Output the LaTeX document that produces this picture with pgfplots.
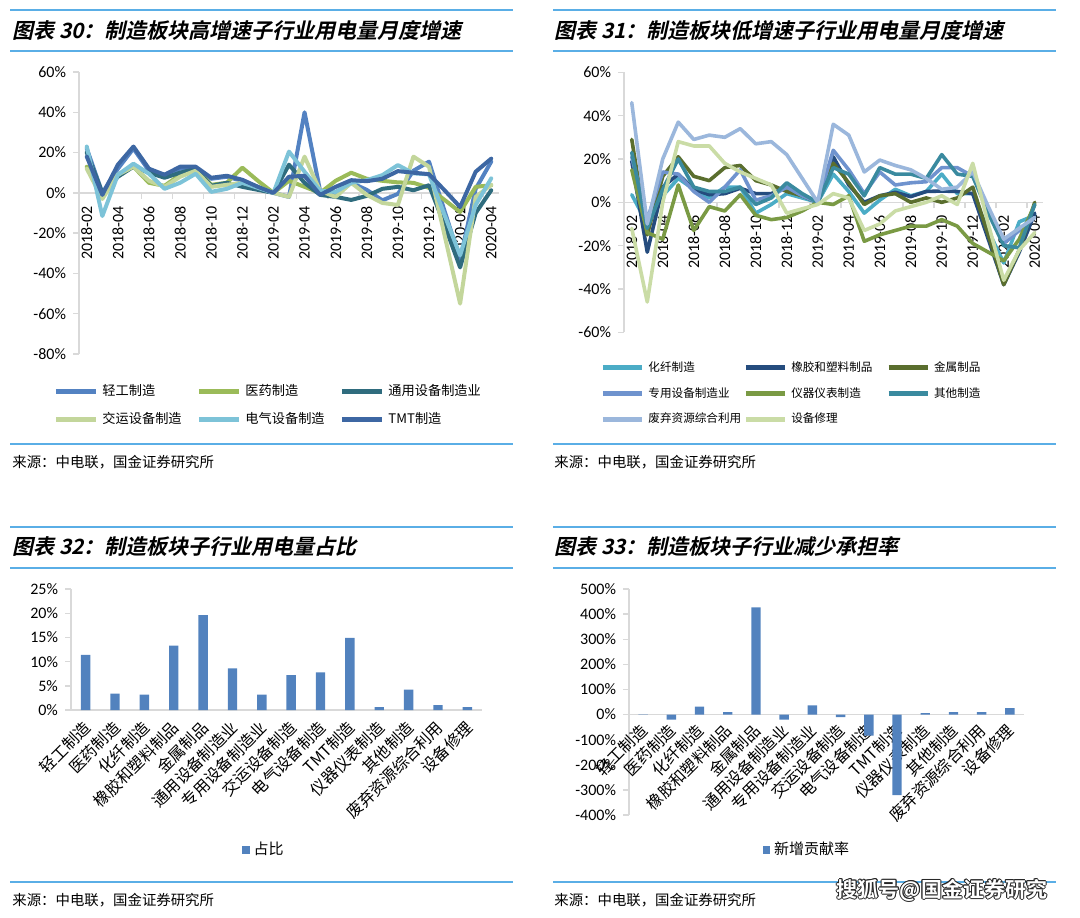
\documentclass[border=0pt]{standalone}
\usepackage{pgfplots}
\pgfplotsset{compat=1.18}
\usepackage{pgfplotstable}
\usepackage{fontspec}
\setmainfont{Carlito}
\newfontfamily\cjk{Noto Sans CJK SC}
\newfontfamily\cjkB{Noto Sans CJK SC Bold}
\newfontfamily\cjkT[FakeSlant=0.22]{Noto Sans CJK SC Bold}

\definecolor{sepblue}{HTML}{5AAEE6}
\definecolor{axgray}{HTML}{D9D9D9}
\definecolor{qg}{HTML}{5382C2}
\definecolor{yy}{HTML}{9BBB59}
\definecolor{ty}{HTML}{2F6C7E}
\definecolor{jy}{HTML}{C3D69B}
\definecolor{dq}{HTML}{7DC3D8}
\definecolor{tmt}{HTML}{3D67A3}
\definecolor{hx}{HTML}{4BACC6}
\definecolor{xj}{HTML}{254C7E}
\definecolor{js}{HTML}{5A6E2E}
\definecolor{zy}{HTML}{6F93CE}
\definecolor{yq}{HTML}{7A9A44}
\definecolor{qt}{HTML}{3A8A9F}
\definecolor{fq}{HTML}{9BB7DC}
\definecolor{xl}{HTML}{CADCA6}
\definecolor{bar}{HTML}{5282BE}

% panel 1: i, qg(轻工) yy(医药) ty(通用) jy(交运) dq(电气) tmt(TMT)
\pgfplotstableread{
i qg yy ty jy dq tmt
0 22 13 20 12 23 18
1 0 -2 0 -3 -11.5 -1
2 12 9 8 9 9 14
3 22 13 13 13 14.5 23
4 11 5 10 6 9.5 12
5 9 3.5 7.5 3 2 9
6 12 9 10 8 5 13
7 12 12 12 11 9.5 13
8 7 4 3.5 3 0.5 7.5
9 8 5 5 4 2 8.5
10 6 12.5 3 5 5 6.5
11 3 6 1.5 3 2.5 3
12 0 0 0 0 0 0
13 -2 6 14 -2 20.5 8
14 40 3 5 18 10.5 8.5
15 1 0 -1 1 1 -1
16 -1 6 -2 -2 0.5 3
17 5 10 -3.5 5 5 6.3
18 1.5 7 -1.5 -1 6.3 5.8
19 -3.7 6 2 -5 8.8 7
20 -0.5 5.2 3 -6 13.8 10.8
21 11 5 1.3 18 9.7 10
22 15.5 2.5 3.8 13 9.2 9.3
23 -9 -3.5 -16 -21 -11 1.3
24 -33 -9.5 -37 -55 -31 -7
25 2 3 -10 -2 -6 10.5
26 15.5 3.8 1.3 4 7.2 17
}\tabA

% panel 2: hx(化纤) xj(橡胶) js(金属) zy(专用) yq(仪器) qt(其他) fq(废弃) xl(修理)
\pgfplotstableread{
i hx xj js zy yq qt fq xl
0 3.5 19 29 21 15 23 46 -12
1 -10 -23 -15 -8 -14 -12 -10 -46
2 3 7 12 14 -17 6 20 0
3 11 13 21 13 8 20 37 28
4 6 6 12 5 -13 7 29 26
5 2 3.5 10 0 -2 5 31 26
6 7 4 16 7 -4 5 30 18
7 7 6.5 17 15 3.5 7 34 14
8 -5 4 10 1 -6 -1 27 11
9 -1 4 8 3 -8 2 28 8
10 4 7 5 7 -7 9 22 -5
11 2 3 3 3 -4 4 11 -3
12 0 0 0 0 0 0 0 -1
13 13 21 18 24 -1 16 36 4
14 5 8 9 15 3 13 31 2
15 -5 0 -1 4 -18 3 14 -13
16 1 3 3 14 -15 16 19.5 -10
17 6 4.6 4 8 -13 13 17 -4
18 3 2.6 0 9 -11 13 15 -2
19 5 5 2 9.5 -11 11 11 0
20 13 5.2 0 16 -8 22 6 3
21 4 5 2 16 -11 13 7 -1
22 4 4 7 12 -19 12 14 18
23 -13 -17 -15 -3 -23 -5 -2 -10
24 -28 -38 -38 -19 -27 -20 -17 -36
25 -9 -23 -22 -13 -17 -21 -12 -22
26 -6 -5 0 -7 -1 -1 -7 -14
}\tabB

\pgfplotsset{
  base/.style={scale only axis, axis x line*=middle, axis y line*=left,
    axis line style={draw=axgray, line width=0.7pt},
    tick align=outside, major tick length=3pt, minor tick length=3pt,
    tick style={draw=axgray, line width=0.7pt},
    major x tick style={draw=none},
    ticklabel style={font=\fontsize{8}{9.6}\selectfont, text=black},
    /pgf/number format/assume math mode=true,
    yticklabel={\pgfmathprintnumber{\tick}\%},
  },
  ln/.style={line width=2pt, line join=round, line cap=round, mark=none},
}

\begin{document}
\begin{tikzpicture}
\path[use as bounding box] (0,0) rectangle (540pt,-458.5pt);
\foreach \y in {-5,-25.5,-222,-263.5,-284,-441} {
  \draw[sepblue,line width=1.1pt] (5pt,\y pt) -- (256.5pt,\y pt);
  \draw[sepblue,line width=1.1pt] (276.5pt,\y pt) -- (528pt,\y pt);
}
\node[anchor=west, font=\cjkT\fontsize{10.5}{12}\selectfont, inner sep=0] at (6pt,-15pt) {图表 30：制造板块高增速子行业用电量月度增速};
\node[anchor=west, font=\cjkT\fontsize{10.5}{12}\selectfont, inner sep=0] at (277pt,-15pt) {图表 31：制造板块低增速子行业用电量月度增速};
\node[anchor=west, font=\cjkT\fontsize{10.5}{12}\selectfont, inner sep=0] at (6pt,-273.5pt) {图表 32：制造板块子行业用电量占比};
\node[anchor=west, font=\cjkT\fontsize{10.5}{12}\selectfont, inner sep=0] at (277pt,-273.5pt) {图表 33：制造板块子行业减少承担率};
\node[anchor=west, font=\cjk\fontsize{7.2}{9}\selectfont, inner sep=0] at (6pt,-231pt) {来源：中电联，国金证券研究所};
\node[anchor=west, font=\cjk\fontsize{7.2}{9}\selectfont, inner sep=0] at (277pt,-231pt) {来源：中电联，国金证券研究所};
\node[anchor=west, font=\cjk\fontsize{7.2}{9}\selectfont, inner sep=0] at (6pt,-450pt) {来源：中电联，国金证券研究所};
\node[anchor=west, font=\cjk\fontsize{7.2}{9}\selectfont, inner sep=0] at (277pt,-450pt) {来源：中电联，国金证券研究所};

% Panel 1
\begin{axis}[base, at={(39.5pt,-177pt)}, anchor=south west, width=210pt, height=141pt,
  xmin=-0.5, xmax=26.5, ymin=-80, ymax=60, ytick={-80,-60,...,60},
  xtick={0,2,...,26}, minor xtick={1.5,3.5,...,25.5},
  xticklabels={2018-02,2018-04,2018-06,2018-08,2018-10,2018-12,2019-02,2019-04,2019-06,2019-08,2019-10,2019-12,2020-02,2020-04},
  xticklabel style={rotate=90, anchor=east},
  legend columns=3, legend cell align=left,
  legend style={at={(-0.076,-0.077)}, anchor=north west, draw=none, fill=none,
    font=\cjk\fontsize{6.6}{8}\selectfont, row sep=3pt,
    /tikz/every even column/.append style={column sep=0pt, text width=45pt}},
  legend image code/.code={\draw[#1,line width=2.5pt,line cap=butt] (0pt,0pt) -- (20pt,0pt);},
]
\addplot[ln, qg] table[x=i,y=qg]{\tabA};
\addplot[ln, yy] table[x=i,y=yy]{\tabA};
\addplot[ln, ty] table[x=i,y=ty]{\tabA};
\addplot[ln, jy] table[x=i,y=jy]{\tabA};
\addplot[ln, dq] table[x=i,y=dq]{\tabA};
\addplot[ln, tmt] table[x=i,y=tmt]{\tabA};
\legend{轻工制造,医药制造,通用设备制造业,交运设备制造,电气设备制造,TMT制造}
\end{axis}

% Panel 2
\begin{axis}[base, at={(312pt,-166.15pt)}, anchor=south west, width=209.25pt, height=130pt,
  xmin=-0.5, xmax=26.5, ymin=-60, ymax=60, ytick={-60,-40,...,60},
  xtick={0,2,...,26}, minor xtick={1.5,3.5,...,25.5},
  xticklabels={2018-02,2018-04,2018-06,2018-08,2018-10,2018-12,2019-02,2019-04,2019-06,2019-08,2019-10,2019-12,2020-02,2020-04},
  xticklabel style={rotate=90, anchor=east},
  legend columns=3, legend cell align=left,
  legend style={at={(-0.0715,-0.08)}, anchor=north west, draw=none, fill=none,
    font=\cjk\fontsize{5.8}{7}\selectfont, row sep=2.5pt,
    /tikz/every even column/.append style={column sep=0pt, text width=45.4pt}},
  legend image code/.code={\draw[#1,line width=2.5pt,line cap=butt] (0pt,0pt) -- (19.5pt,0pt);},
]
\addplot[ln, line width=1.8pt, hx] table[x=i,y=hx]{\tabB};
\addplot[ln, line width=1.8pt, xj] table[x=i,y=xj]{\tabB};
\addplot[ln, line width=1.8pt, js] table[x=i,y=js]{\tabB};
\addplot[ln, line width=1.8pt, zy] table[x=i,y=zy]{\tabB};
\addplot[ln, line width=1.8pt, yq] table[x=i,y=yq]{\tabB};
\addplot[ln, line width=1.8pt, qt] table[x=i,y=qt]{\tabB};
\addplot[ln, line width=1.8pt, fq] table[x=i,y=fq]{\tabB};
\addplot[ln, line width=1.8pt, xl] table[x=i,y=xl]{\tabB};
\legend{化纤制造,橡胶和塑料制品,金属制品,专用设备制造业,仪器仪表制造,其他制造,废弃资源综合利用,设备修理}
\end{axis}

% Panel 3
\begin{axis}[base, at={(35.5pt,-355pt)}, anchor=south west, width=205.5pt, height=60.5pt,
  xmin=-0.5, xmax=13.5, ymin=0, ymax=25, ytick={0,5,...,25},
  xtick={0,...,13},
  xticklabels={轻工制造,医药制造,化纤制造,橡胶和塑料制品,金属制品,通用设备制造业,专用设备制造业,交运设备制造,电气设备制造,TMT制造,仪器仪表制造,其他制造,废弃资源综合利用,设备修理},
  xticklabel style={font=\cjk\fontsize{8}{9}\selectfont, xshift=3.5pt, yshift=-2pt, rotate=45, anchor=east},
  legend style={at={(0.472,-1.157)}, anchor=center, draw=none, fill=none,
    font=\cjk\fontsize{7.5}{9}\selectfont},
]
\addplot[ybar, bar width=4.7pt, fill=bar, draw=none,
  legend image code/.code={\fill[bar] (0pt,-1.8pt) rectangle (3.6pt,1.8pt);}]
  coordinates {(0,11.4) (1,3.4) (2,3.2) (3,13.3) (4,19.6) (5,8.6) (6,3.2) (7,7.2) (8,7.8) (9,14.9) (10,0.6) (11,4.2) (12,1.0) (13,0.6)};
\legend{占比}
\end{axis}

% Panel 4
\begin{axis}[base, at={(314.5pt,-407.5pt)}, anchor=south west, width=197.5pt, height=113pt,
  xmin=-0.5, xmax=13.5, ymin=-400, ymax=500, ytick={-400,-300,...,500},
  xtick={0,...,13},
  xticklabels={轻工制造,医药制造,化纤制造,橡胶和塑料制品,金属制品,通用设备制造业,专用设备制造业,交运设备制造,电气设备制造,TMT制造,仪器仪表制造,其他制造,废弃资源综合利用,设备修理},
  xticklabel style={font=\cjk\fontsize{8}{9}\selectfont, xshift=3pt, yshift=-1pt, rotate=45, anchor=east},
  legend style={at={(0.453,-0.155)}, anchor=center, draw=none, fill=none,
    font=\cjk\fontsize{7.5}{9}\selectfont},
]
\addplot[ybar, bar width=4.7pt, fill=bar, draw=none,
  legend image code/.code={\fill[bar] (0pt,-1.8pt) rectangle (3.6pt,1.8pt);}]
  coordinates {(0,0.5) (1,-20) (2,32) (3,10) (4,427) (5,-20) (6,37) (7,-10) (8,-84) (9,-321) (10,6) (11,10) (12,10) (13,26)};
\legend{新增贡献率}
\end{axis}

% watermark
\foreach \dx/\dy in {0.5/0,-0.5/0,0/0.5,0/-0.5,0.35/0.35,-0.35/0.35,0.35/-0.35,-0.35/-0.35} {
  \node[font=\cjkB\fontsize{10.5}{12}\selectfont, text=black!85, inner sep=0, xshift=\dx pt, yshift=\dy pt] at (471pt,-445pt) {搜狐号@国金证券研究};
}
\node[font=\cjkB\fontsize{10.5}{12}\selectfont, text=white, inner sep=0] at (471pt,-445pt) {搜狐号@国金证券研究};
\end{tikzpicture}
\end{document}
